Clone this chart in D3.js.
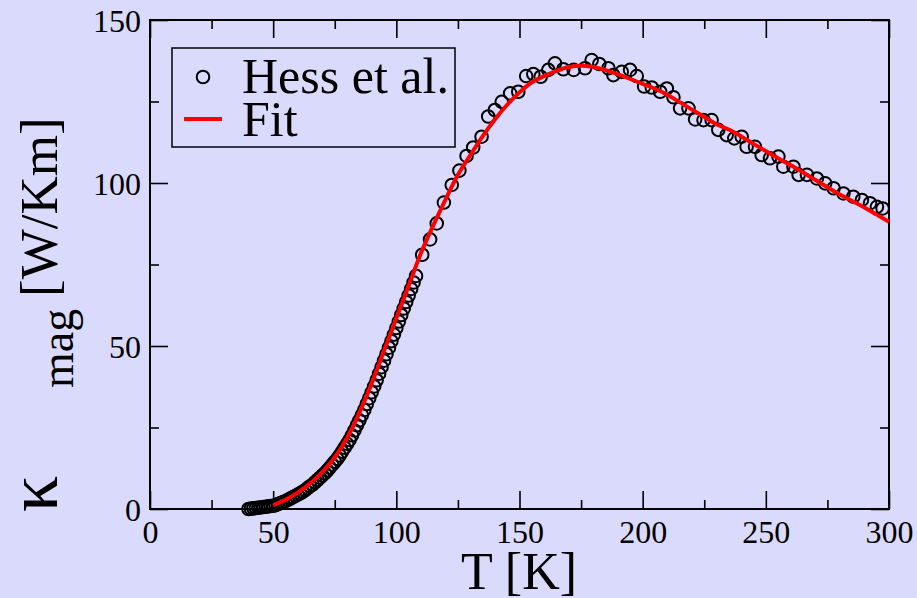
<!DOCTYPE html>
<html>
<head>
<meta charset="utf-8">
<script src="https://cdn.jsdelivr.net/npm/d3@7"></script>
<style>
  html, body { margin: 0; padding: 0; background: #dadafc; }
  svg { display: block; }
  text { font-family: "Liberation Serif", "Times New Roman", serif; fill: #000; }
</style>
</head>
<body>
<svg id="chart" width="917" height="598" font-family="'Liberation Serif', 'Times New Roman', serif"></svg>
<script>
// ---------------- data ----------------
const hessT = [40,41,42,43,44,45,46,47,48,49,50,51,52,53,54,55,56,57,58,59,60,
  61,62,63,64,65,66,67,68,69,70,71,72,73,74,75,76,77,78,79,80,
  81,82,83,84,85,86,87,88,89,90,91,92,93,94,95,96,97,98,99,100,
  101,102,103,104,105,106,107,108,
  110.5,113.7,116.4,119.3,122.5,125.6,128.5,131.2,134.6,137.3,140.0,142.8,146.2,149.5,
  152.7,155.6,158.6,161.7,164.4,167.8,172.0,176.6,179.3,182.4,186.1,188.1,191.5,194.9,
  197.6,200.6,203.7,207.1,209.8,212.5,215.2,218.6,221.3,224.7,228.0,230.7,234.1,237.2,
  240.2,242.2,245.6,248.3,251.7,255.1,257.1,261.2,263.3,266.7,270.7,274.1,277.5,281.5,
  285.5,289.0,292.3,295.1,297.4];
const hessK = [0.0,0.1,0.2,0.3,0.4,0.5,0.6,0.7,0.8,0.9,1.0,1.2,1.5,1.8,2.1,2.4,2.8,3.2,3.6,4.0,4.4,
  4.8,5.3,5.8,6.4,7.0,7.5,8.2,8.9,9.6,10.3,11.0,11.8,12.7,13.6,14.5,15.4,16.4,17.6,18.8,20.0,
  21.2,22.6,24.1,25.7,27.2,28.8,30.4,32.2,34.0,35.8,37.6,39.5,41.5,43.5,45.5,47.5,49.5,51.5,53.5,55.5,
  57.5,59.5,61.5,63.5,65.5,67.5,69.5,71.5,
  78.0,82.7,87.6,94.0,99.4,103.8,108.3,110.9,114.2,120.4,122.4,124.9,127.5,128.0,
  132.8,133.4,132.6,134.7,136.7,134.9,134.7,135.2,137.7,136.5,135.2,133.1,134.1,134.7,
  132.8,129.6,129.3,128.0,129.0,126.3,122.9,122.9,119.5,119.3,119.3,116.3,114.7,113.7,
  114.2,111.1,111.1,108.6,107.6,108.1,105.0,105.0,102.5,102.5,101.4,99.9,98.4,96.8,
  95.8,94.8,93.8,92.7,92.2];

const fitT = [50,55,60,65,70,75,80,85,90,95,100,105,110,115,120,125,130,135,140,145,150,
  155,160,165,170,175,180,185,190,195,200,205,210,215,220,225,230,235,240,245,250,
  255,260,265,270,275,280,285,290,295,300];
const fitK = [1.2,2.8,5.0,7.8,11.3,15.8,21.8,29.5,38.5,48.5,58.5,68.5,78.5,87.0,95.0,102.5,108.5,114.3,119.5,124.0,127.8,
  130.9,132.8,134.4,135.6,136.0,135.6,134.6,133.3,131.9,130.4,128.9,127.1,124.8,122.5,120.3,118.0,116.4,114.3,112.0,109.8,
  107.6,105.5,103.3,101.0,98.7,96.5,94.5,92.5,90.3,88.1];

const xMajor = [0,50,100,150,200,250,300];
const xMinor = [25,75,125,175,225,275];
const yMajor = [0,50,100,150];
const yMinor = [25,75,125];
const legendLabels = ["Hess et al.", "Fit"];
const xTitle = "T [K]";

// ---------------- chart ----------------
const FONT = "'Liberation Serif', 'Times New Roman', serif";
const svg = d3.select("#chart");
const L = 150, R = 889, T = 20, B = 509;
const x = d3.scaleLinear().domain([0, 300]).range([L, R]);
const y = d3.scaleLinear().domain([0, 150]).range([B, T]);

svg.append("rect").attr("x", 0).attr("y", 0).attr("width", 917).attr("height", 598).attr("fill", "#dadafc");

// ticks (inward) on all four sides
function styleAxis(g) {
  g.attr("font-family", FONT);
  g.select(".domain").remove();
  g.selectAll(".tick line").attr("stroke", "#000").attr("stroke-width", 1.6);
}
svg.append("g").attr("transform", `translate(0,${B})`)
  .call(d3.axisBottom(x).tickValues(xMajor).tickSize(-18).tickSizeOuter(0).tickFormat(d3.format("d")))
  .call(styleAxis)
  .call(g => g.selectAll(".tick text").attr("y", 34).attr("dy", null)
      .attr("font-size", 32).attr("font-family", FONT));
svg.append("g").attr("transform", `translate(0,${B})`)
  .call(d3.axisBottom(x).tickValues(xMinor).tickSize(-9).tickSizeOuter(0).tickFormat(""))
  .call(styleAxis);
svg.append("g").attr("transform", `translate(0,${T})`)
  .call(d3.axisTop(x).tickValues(xMajor).tickSize(-18).tickSizeOuter(0).tickFormat(""))
  .call(styleAxis);
svg.append("g").attr("transform", `translate(0,${T})`)
  .call(d3.axisTop(x).tickValues(xMinor).tickSize(-9).tickSizeOuter(0).tickFormat(""))
  .call(styleAxis);

svg.append("g").attr("transform", `translate(${L},0)`)
  .call(d3.axisLeft(y).tickValues(yMajor).tickSize(-18).tickSizeOuter(0).tickFormat(d3.format("d")))
  .call(styleAxis)
  .call(g => g.selectAll(".tick text").attr("x", -9).attr("dy", "0.36em")
      .attr("font-size", 32).attr("font-family", FONT));
svg.append("g").attr("transform", `translate(${L},0)`)
  .call(d3.axisLeft(y).tickValues(yMinor).tickSize(-9).tickSizeOuter(0).tickFormat(""))
  .call(styleAxis);
svg.append("g").attr("transform", `translate(${R},0)`)
  .call(d3.axisRight(y).tickValues(yMajor).tickSize(-18).tickSizeOuter(0).tickFormat(""))
  .call(styleAxis);
svg.append("g").attr("transform", `translate(${R},0)`)
  .call(d3.axisRight(y).tickValues(yMinor).tickSize(-9).tickSizeOuter(0).tickFormat(""))
  .call(styleAxis);

// frame
svg.append("rect").attr("x", L).attr("y", T).attr("width", R - L).attr("height", B - T)
  .attr("fill", "none").attr("stroke", "#000").attr("stroke-width", 2);

// data circles
const pts = hessT.map((t, i) => ({ t, k: hessK[i] }));
svg.append("g").selectAll("circle").data(pts).join("circle")
  .attr("cx", d => x(d.t)).attr("cy", d => y(d.k)).attr("r", 6.3)
  .attr("fill", "none").attr("stroke", "#000").attr("stroke-width", 2);

// fit line
const fitPts = fitT.map((t, i) => ({ t, k: fitK[i] }));
svg.append("path").datum(fitPts)
  .attr("d", d3.line().x(d => x(d.t)).y(d => y(d.k)).curve(d3.curveMonotoneX))
  .attr("fill", "none").attr("stroke", "#ff0000").attr("stroke-width", 4);

// legend
const lg = svg.append("g").attr("font-family", FONT);
lg.append("rect").attr("x", 172).attr("y", 48).attr("width", 283).attr("height", 99)
  .attr("fill", "#dadafc").attr("stroke", "#000").attr("stroke-width", 1.5);
lg.append("circle").attr("cx", 203).attr("cy", 77).attr("r", 6.3)
  .attr("fill", "none").attr("stroke", "#000").attr("stroke-width", 2);
lg.append("line").attr("x1", 184).attr("x2", 222).attr("y1", 119).attr("y2", 119)
  .attr("stroke", "#ff0000").attr("stroke-width", 4);
lg.append("text").attr("x", 242).attr("y", 93).attr("font-size", 50).attr("font-family", FONT).text(legendLabels[0]);
lg.append("text").attr("x", 242).attr("y", 136).attr("font-size", 50).attr("font-family", FONT).text(legendLabels[1]);

// axis titles
svg.append("text").attr("x", 519).attr("y", 589).attr("text-anchor", "middle")
  .attr("font-size", 52).attr("font-family", FONT).text(xTitle);

const yt = svg.append("text").attr("transform", "rotate(-90)").attr("font-size", 53).attr("font-family", FONT);
yt.append("tspan").attr("x", -512).attr("y", 57).attr("font-size", 72).text("κ");
yt.append("tspan").attr("x", -388).attr("y", 73).attr("font-size", 46).text("mag");
yt.append("tspan").attr("x", -297).attr("y", 57).text("[W/Km]");
</script>
</body>
</html>
